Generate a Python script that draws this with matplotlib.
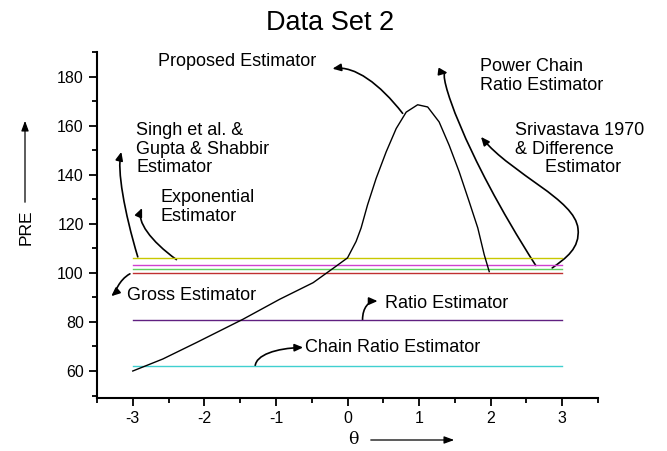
import matplotlib
matplotlib.use("Agg")
import matplotlib.pyplot as plt
from matplotlib.patches import FancyArrowPatch
from matplotlib.path import Path

# ---- data ----
theta_range = [-3, 3]
gross = 100.0
green_est = 101.5
magenta_est = 103.0
yellow_est = 106.0
ratio = 80.8
chain_ratio = 62.0

prop_theta = [-3.0, -2.58, -2.11, -1.46, -0.95, -0.48, -0.16, 0.0, 0.12, 0.19, 0.28,
              0.40, 0.54, 0.68, 0.82, 0.98, 1.12, 1.28, 1.42, 1.56, 1.70, 1.82, 1.91, 1.98]
prop_pre = [60.0, 64.9, 71.6, 81.1, 89.2, 96.0, 102.7, 106.1, 112.8, 118.3, 127.7,
            138.5, 149.3, 158.8, 165.5, 168.5, 167.6, 161.5, 152.0, 141.2, 129.0, 118.3, 107.4, 100.5]

yticks = [60, 80, 100, 120, 140, 160, 180]
xticks = [-3, -2, -1, 0, 1, 2, 3]

plt.rcParams['font.family'] = ['Liberation Sans', 'DejaVu Sans']

fig = plt.figure(figsize=(6.67, 4.51), dpi=100)
ax = fig.add_axes([0.1454, 0.1175, 0.7512, 0.7672])

lw = 1.0
ax.plot(theta_range, [yellow_est] * 2, color='#c8c800', lw=lw)
ax.plot(theta_range, [magenta_est] * 2, color='#d040d0', lw=lw)
ax.plot(theta_range, [green_est] * 2, color='#60d060', lw=lw)
ax.plot(theta_range, [gross] * 2, color='#c03030', lw=lw)
ax.plot(theta_range, [ratio] * 2, color='#602080', lw=lw)
ax.plot(theta_range, [chain_ratio] * 2, color='#40d0d0', lw=lw)
ax.plot(prop_theta, prop_pre, color='black', lw=1.0, solid_joinstyle='round')

ax.set_xlim(-3.5, 3.5)
ax.set_ylim(49, 190)
ax.set_xticks(xticks)
ax.set_xticklabels([str(t) for t in xticks])
ax.set_yticks(yticks)
ax.set_xticks([-3.5, -2.5, -1.5, -0.5, 0.5, 1.5, 2.5, 3.5], minor=True)
ax.set_yticks([50, 70, 90, 110, 130, 150, 170, 190], minor=True)
ax.spines['top'].set_visible(False)
ax.spines['right'].set_visible(False)
for s in ['left', 'bottom']:
    ax.spines[s].set_linewidth(1.5)
ax.tick_params(which='major', direction='out', length=6, width=1.3, labelsize=11.5)
ax.tick_params(which='minor', direction='out', length=3.5, width=1.3)

fig.text(0.495, 0.95, 'Data Set 2', ha='center', va='center', fontsize=19.5)

# y label with arrow
fig.text(26 / 667, 1 - 227 / 451, 'PRE', rotation=90, ha='center', va='center', fontsize=12.5)
fig.add_artist(FancyArrowPatch((25 / 667, 1 - 205 / 451), (25 / 667, 1 - 118 / 451),
                               transform=fig.transFigure, arrowstyle='-|>,head_length=6,head_width=2.2',
                               color='black', lw=0.9))
# x label with arrow
fig.text(353 / 667, 1 - 440 / 451, 'θ', ha='center', va='center', fontsize=12.5,
         family=['DejaVu Serif'])
fig.add_artist(FancyArrowPatch((368 / 667, 1 - 440 / 451), (457 / 667, 1 - 440 / 451),
                               transform=fig.transFigure, arrowstyle='-|>,head_length=6,head_width=2.2',
                               color='black', lw=0.9))


def curve_arrow(pts):
    codes = [Path.MOVETO] + [Path.CURVE4] * (len(pts) - 1)
    p = FancyArrowPatch(path=Path(pts, codes), arrowstyle='-|>,head_length=5,head_width=2.2',
                        color='black', lw=1.2, transform=ax.transData, clip_on=False)
    ax.add_patch(p)


# annotation arrows
curve_arrow([(-2.93, 106.5), (-3.12, 125), (-3.22, 142), (-3.16, 149.3)])          # Singh
curve_arrow([(-2.39, 105.4), (-2.75, 113), (-2.95, 121), (-2.87, 126.4)])          # Exponential
curve_arrow([(-3.04, 99.6), (-3.2, 97), (-3.24, 92), (-3.30, 90.5)])               # Gross
curve_arrow([(0.21, 80.8), (0.21, 86), (0.3, 88.5), (0.42, 88.5)])                 # Ratio
curve_arrow([(-1.29, 62), (-1.28, 66.5), (-1.0, 69.3), (-0.62, 69.6)])             # Chain
curve_arrow([(0.77, 165), (0.45, 177), (0.1, 184.5), (-0.21, 183.2)])              # Proposed
curve_arrow([(2.63, 103), (1.6, 150), (1.26, 182), (1.40, 181.5)])                 # Power chain
curve_arrow([(2.86, 102), (3.05, 106), (3.25, 110), (3.22, 118),
             (3.18, 130), (2.3, 140), (1.865, 155.4)])                            # Srivastava

# annotation texts (pixel positions in figure)
def ftext(x, y, s, **kw):
    fig.text(x / 667, 1 - y / 451, s, ha='left', va='center', fontsize=13, linespacing=1.1, **kw)

ftext(158, 62, 'Proposed Estimator')
ftext(136, 149, 'Singh et al. &\nGupta & Shabbir\nEstimator')
ftext(160, 207, 'Exponential\nEstimator')
ftext(127, 296, 'Gross Estimator')
ftext(385, 304, 'Ratio Estimator')
ftext(305, 347, 'Chain Ratio Estimator')
ftext(480, 76, 'Power Chain\nRatio Estimator')
ftext(515, 149, 'Srivastava 1970\n& Difference\n      Estimator')

fig.savefig('out.png', dpi=100)
